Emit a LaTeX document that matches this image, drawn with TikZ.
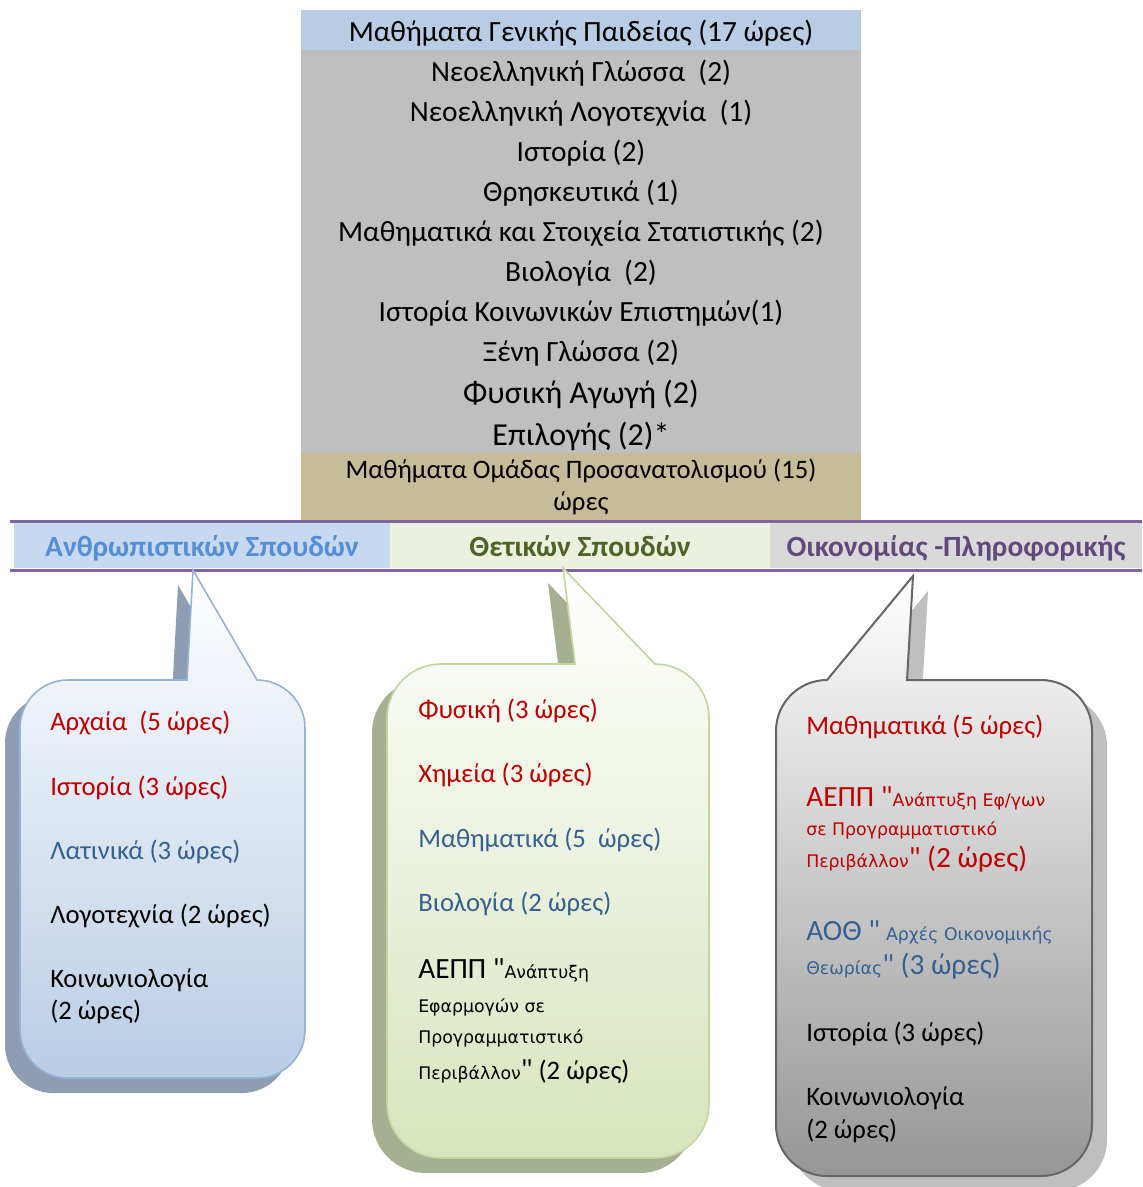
\documentclass[tikz,border=0pt]{standalone}
\usepackage{fontspec}
\setmainfont{Carlito}[Ligatures=TeXOff]
\newfontfamily\verdfont{DejaVu Sans}[Ligatures=TeXOff]
\usetikzlibrary{positioning}

\definecolor{hdrblue}{HTML}{B8CCE4}
\definecolor{rowgrey}{HTML}{BFBFBF}
\definecolor{orienttan}{HTML}{C4BD97}
\definecolor{bandpurple}{HTML}{8064A2}
\definecolor{humcell}{HTML}{C6D9F1}
\definecolor{scicell}{HTML}{EBF1DE}
\definecolor{ecocell}{HTML}{D9D9D9}
\definecolor{humtext}{HTML}{558ED5}
\definecolor{scitext}{HTML}{4F6228}
\definecolor{ecotext}{HTML}{604A7B}
\definecolor{lessonred}{HTML}{C00000}
\definecolor{lessonblue}{HTML}{376092}
\definecolor{humedge}{HTML}{95B3D7}
\definecolor{humbottom}{HTML}{B9CDE5}
\definecolor{humshadow}{HTML}{8E9DB1}
\definecolor{sciedge}{HTML}{C3D69B}
\definecolor{scibottom}{HTML}{D7E4BD}
\definecolor{scishadow}{HTML}{A5B093}
\definecolor{ecoedge}{HTML}{666666}
\definecolor{ecobottom}{HTML}{969696}
\definecolor{ecoshadow}{HTML}{BFBFBF}

\newcommand{\bigtxt}[1]{{\fontsize{22}{24}\selectfont #1}}
\newcommand{\smalltxt}[1]{{\verdfont\fontsize{13}{15}\selectfont #1}}
% callout: left, top, right, bottom, radius, base left, base right, tip x, tip y
\newcommand{\bubblepath}[9]{(#7,#2) -- ({#3-#5},#2) arc[start angle=270,end angle=360,radius=#5]
  -- (#3,{#4-#5}) arc[start angle=0,end angle=90,radius=#5]
  -- ({#1+#5},#4) arc[start angle=90,end angle=180,radius=#5]
  -- (#1,{#2+#5}) arc[start angle=180,end angle=270,radius=#5]
  -- (#6,#2) -- (#8,#9) -- cycle}

\tikzset{
  row/.style={fill=rowgrey, minimum width=420pt, minimum height=30pt, inner sep=0pt, outer sep=0pt,
    text height=17pt, text depth=0pt, font=\fontsize{22}{26}\selectfont},
  cell/.style={minimum height=33.75pt, inner sep=0pt, outer sep=0pt, text height=17pt, text depth=0pt,
    font=\bfseries\fontsize{22}{26}\selectfont},
  bandline/.style={draw=bandpurple, line width=2.25pt},
  item/.style={anchor=west, inner sep=0pt, text height=13pt, text depth=0pt, font=\fontsize{20}{24}\selectfont},
  humbubble/.style={draw=humedge, line width=1.2pt, top color=white, bottom color=humbottom},
  scibubble/.style={draw=sciedge, line width=1.2pt, top color=white, bottom color=scibottom},
  ecobubble/.style={draw=ecoedge, line width=1.5pt, top color=white, bottom color=ecobottom},
}

\begin{document}
\begin{tikzpicture}[x=0.75pt,y=-0.75pt]
\useasboundingbox (0,0) rectangle (1142,1187);

% general education lessons
\node[row, fill=hdrblue] (gen) at (581,30) {Μαθήματα Γενικής Παιδείας (17 ώρες)};
\node[row, below=0pt of gen] (lang) {Νεοελληνική Γλώσσα\ \ (2)};
\node[row, below=0pt of lang] (lit) {Νεοελληνική Λογοτεχνία\ \ (1)};
\node[row, below=0pt of lit] (hist) {Ιστορία (2)};
\node[row, below=0pt of hist] (rel) {Θρησκευτικά (1)};
\node[row, below=0pt of rel] (math) {Μαθηματικά και Στοιχεία Στατιστικής (2)};
\node[row, below=0pt of math] (bio) {Βιολογία\ \ (2)};
\node[row, below=0pt of bio] (soc) {Ιστορία Κοινωνικών Επιστημών(1)};
\node[row, below=0pt of soc] (forlang) {Ξένη Γλώσσα (2)};
\node[row, minimum height=31.1pt, text height=19.5pt, font=\fontsize{24}{28}\selectfont, below=0pt of forlang] (gym) {Φυσική Αγωγή (2)};
\node[row, minimum height=31.1pt, text height=19.5pt, font=\fontsize{24}{28}\selectfont, below=0pt of gym] (elect) {Επιλογής (2)*};
\node[row, fill=orienttan, minimum height=50.25pt, text height=, text depth=, align=center,
  font=\fontsize{20}{24}\selectfont, below=0pt of elect] (orient)
  {\rule{0pt}{16pt}Μαθήματα Ομάδας Προσανατολισμού (15)\\ώρες};

% orientation groups
\node[cell, fill=humcell, minimum width=282pt, text=humtext] (hum) at (202,545.5) {Ανθρωπιστικών Σπουδών};
\node[cell, fill=scicell, minimum width=285pt, text=scitext, right=0pt of hum] (sci) {Θετικών Σπουδών};
\node[cell, fill=ecocell, minimum width=279pt, text=ecotext, right=0pt of sci] (eco) {Οικονομίας -Πληροφορικής};
\draw[bandline] (10,521) -- (1142,521);
\draw[bandline] (10,570) -- (1142,570);

% humanities callout
\fill[humshadow, shift={(-15,15)}] \bubblepath{20}{680}{305}{1078}{48}{187}{257}{193}{570};
\draw[humbubble] \bubblepath{20}{680}{305}{1078}{48}{187}{257}{193}{570};
\node[item, text=lessonred] (hum1) at (50,722) {Αρχαία\ \ (5 ώρες)};
\node[item, text=lessonred] (hum2) at (50,787) {Ιστορία (3 ώρες)};
\node[item, text=lessonblue] (hum3) at (50,851) {Λατινικά (3 ώρες)};
\node[item] (hum4) at (50,915) {Λογοτεχνία (2 ώρες)};
\node[item] (hum5) at (50,979) {Κοινωνιολογία};
\node[item] (hum6) at (50,1011) {(2 ώρες)};

% science callout
\fill[scishadow, shift={(-15,15)}] \bubblepath{387}{664}{709}{1158}{54}{575}{655}{563}{568};
\draw[scibubble] \bubblepath{387}{664}{709}{1158}{54}{575}{655}{563}{568};
\node[item, text=lessonred] (sci1) at (418,710) {Φυσική (3 ώρες)};
\node[item, text=lessonred] (sci2) at (418,774) {Χημεία (3 ώρες)};
\node[item, text=lessonblue] (sci3) at (418,839) {Μαθηματικά (5\ \ ώρες)};
\node[item, text=lessonblue] (sci4) at (418,903) {Βιολογία (2 ώρες)};
\node[item] (sci5) at (418,970) {\bigtxt{ΑΕΠΠ "}\smalltxt{Ανάπτυξη}};
\node[item] (sci6) at (418,1004) {\smalltxt{Εφαρμογών σε}};
\node[item] (sci7) at (418,1035) {\smalltxt{Προγραμματιστικό}};
\node[item] (sci8) at (418,1071) {\smalltxt{Περιβάλλον}\bigtxt{"} (2 ώρες)};

% economics callout
\fill[ecoshadow, shift={(15,15)}] \bubblepath{776}{680}{1092}{1176}{51}{827}{907}{913}{576};
\draw[ecobubble] \bubblepath{776}{680}{1092}{1176}{51}{827}{907}{913}{576};
\node[item, text=lessonred] (eco1) at (806,726) {Μαθηματικά (5 ώρες)};
\node[item, text=lessonred] (eco2) at (806,798) {\bigtxt{ΑΕΠΠ "}\smalltxt{Ανάπτυξη Εφ/γων}};
\node[item, text=lessonred] (eco3) at (806,827) {\smalltxt{σε Προγραμματιστικό}};
\node[item, text=lessonred] (eco4) at (806,859) {\smalltxt{Περιβάλλον}\bigtxt{" (2 ώρες)}};
\node[item, text=lessonblue] (eco5) at (806,932) {\bigtxt{ΑΟΘ "} \smalltxt{Αρχές Οικονομικής}};
\node[item, text=lessonblue] (eco6) at (806,966) {\smalltxt{Θεωρίας}\bigtxt{" (3 ώρες)}};
\node[item] (eco7) at (806,1033) {Ιστορία (3 ώρες)};
\node[item] (eco8) at (806,1097) {Κοινωνιολογία};
\node[item] (eco9) at (806,1130) {(2 ώρες)};
\end{tikzpicture}
\end{document}
